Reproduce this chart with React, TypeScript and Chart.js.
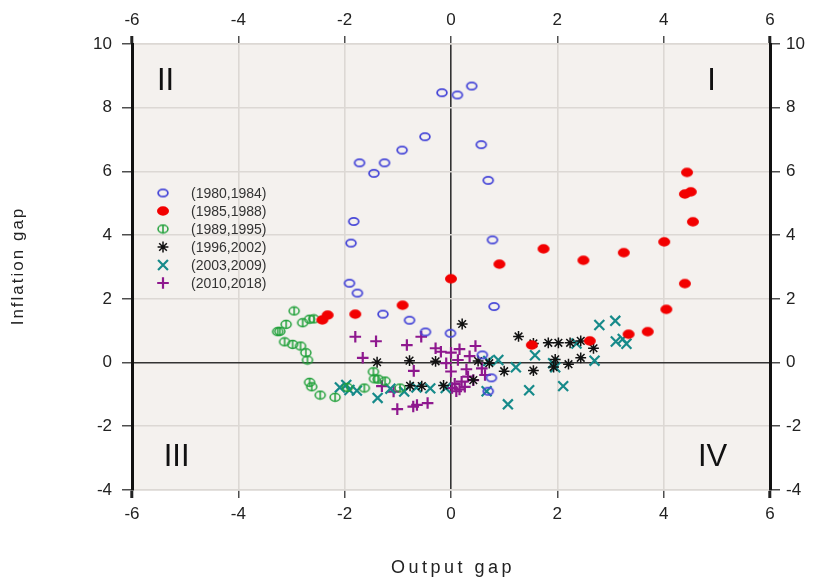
import React, { useEffect, useRef } from 'react';
import { Chart, registerables } from 'chart.js';

Chart.register(...registerables);

// ---------- data ----------
const seriesLabels = ['(1980,1984)', '(1985,1988)', '(1989,1995)', '(1996,2002)', '(2003,2009)', '(2010,2018)'];

const s1980_1984: [number, number][] = [
  [-0.17, 8.47], [0.12, 8.4], [0.39, 8.68], [0.57, 6.84], [0.7, 5.72], [0.78, 3.85], [0.81, 1.76],
  [0.59, 0.24], [0.76, -0.48], [0.7, -0.9], [-0.01, 0.92], [-0.48, 0.96], [-0.78, 1.33], [-1.28, 1.52],
  [-1.76, 2.18], [-1.91, 2.49], [-1.88, 3.75], [-1.83, 4.43], [-1.72, 6.27], [-1.45, 5.94], [-1.25, 6.27],
  [-0.92, 6.67], [-0.49, 7.09],
];
const s1985_1988: [number, number][] = [
  [-2.42, 1.34], [-2.32, 1.49], [-1.8, 1.52], [-0.91, 1.8], [0.0, 2.63], [0.91, 3.09], [1.74, 3.57],
  [2.49, 3.21], [3.25, 3.45], [4.01, 3.79], [4.55, 4.42], [4.44, 5.97], [4.4, 5.29], [4.51, 5.36],
  [4.4, 2.48], [4.05, 1.67], [3.7, 0.97], [3.34, 0.89], [2.61, 0.68], [1.52, 0.55],
];
const s1989_1995: [number, number][] = [
  [-2.95, 1.62], [-2.66, 1.36], [-2.58, 1.37], [-2.79, 1.25], [-3.1, 1.2], [-3.26, 0.97], [-3.22, 0.98],
  [-3.13, 0.65], [-2.98, 0.57], [-2.83, 0.52], [-2.73, 0.31], [-2.7, 0.08], [-2.66, -0.62], [-2.62, -0.76],
  [-2.46, -1.02], [-2.18, -1.09], [-1.95, -0.78], [-1.63, -0.8], [-1.46, -0.29], [-1.44, -0.51],
  [-1.37, -0.52], [-1.24, -0.58], [-0.96, -0.8],
];
const s1996_2002: [number, number][] = [
  [0.21, 1.21], [-1.39, 0.01], [-0.78, 0.06], [-0.29, 0.04], [0.51, 0.05], [0.72, -0.02], [1.27, 0.82],
  [1.55, 0.6], [1.83, 0.62], [2.02, 0.62], [2.24, 0.62], [2.44, 0.68], [2.68, 0.45], [2.44, 0.15],
  [2.21, -0.05], [1.96, 0.1], [1.93, -0.14], [1.55, -0.25], [1.0, -0.27], [0.42, -0.55], [-0.14, -0.72],
  [-0.55, -0.74], [-0.77, -0.73],
];
const s2003_2009: [number, number][] = [
  [-2.09, -0.78], [-1.97, -0.7], [-1.91, -0.86], [-1.77, -0.88], [-1.38, -1.11], [-1.14, -0.82],
  [-0.88, -0.91], [-0.65, -0.78], [-0.39, -0.81], [-0.1, -0.8], [0.67, -0.9], [0.7, 0.05], [0.89, 0.08],
  [1.22, -0.15], [1.58, 0.23], [1.92, -0.02], [1.96, -0.15], [1.47, -0.87], [2.11, -0.74], [1.07, -1.31],
  [2.36, 0.6], [2.7, 0.06], [2.79, 1.18], [3.09, 1.31], [3.1, 0.66], [3.23, 0.74], [3.3, 0.59],
];
const s2010_2018: [number, number][] = [
  [-1.8, 0.81], [-1.41, 0.67], [-1.66, 0.15], [-0.83, 0.55], [-0.56, 0.81], [-0.29, 0.45], [-0.19, 0.34],
  [0.0, 0.31], [0.16, 0.42], [0.46, 0.52], [0.35, 0.2], [0.13, 0.08], [-0.09, -0.02], [-0.7, -0.26],
  [0.0, -0.28], [0.29, -0.21], [0.32, -0.44], [0.2, -0.6], [0.42, -0.55], [0.07, -0.67], [0.16, -0.84],
  [0.26, -0.76], [0.58, -0.18], [0.64, -0.39], [-1.3, -0.74], [-1.08, -0.91], [-1.01, -1.46],
  [-0.71, -1.38], [-0.64, -1.33], [-0.44, -1.27], [0.02, -0.8], [0.1, -0.9],
];

const xRange = [-6, 6];
const yRange = [-4, 10];
const tickStep = 2;

const quadrantLabels: { text: string; x: number; y: number }[] = [
  { text: 'I', x: 4.9, y: 8.82 },
  { text: 'II', x: -5.37, y: 8.82 },
  { text: 'III', x: -5.16, y: -2.99 },
  { text: 'IV', x: 4.92, y: -2.99 },
];

const xTitle = 'Output gap';
const yTitle = 'Inflation gap';

// ---------- styles ----------
const FONT = '"Liberation Sans", Arial, sans-serif';
const BLUE = '#4848d8';
const RED = '#f20000';
const GREEN = '#20a03a';
const BLACK = '#111111';
const TEAL = '#168a8a';
const PURPLE = '#8e188e';

function ellipseImage(w: number, h: number, rx: number, ry: number, color: string, filled: boolean, lw: number, bar: boolean) {
  const c = document.createElement('canvas');
  c.width = w;
  c.height = h;
  const g = c.getContext('2d')!;
  g.beginPath();
  g.ellipse(w / 2, h / 2, rx, ry, 0, 0, Math.PI * 2);
  if (filled) {
    g.fillStyle = color;
    g.fill();
  } else {
    g.strokeStyle = color;
    g.lineWidth = lw;
    g.stroke();
  }
  if (bar) {
    g.beginPath();
    g.moveTo(w / 2, h / 2 - ry);
    g.lineTo(w / 2, h / 2 + ry);
    g.strokeStyle = color;
    g.lineWidth = lw;
    g.stroke();
  }
  return c;
}

function drawMarker(ctx: CanvasRenderingContext2D, style: any, color: string, r: number, lw: number, x: number, y: number) {
  ctx.save();
  if (style instanceof HTMLCanvasElement) {
    ctx.drawImage(style, x - style.width / 2, y - style.height / 2);
    ctx.restore();
    return;
  }
  ctx.strokeStyle = color;
  ctx.lineWidth = lw;
  ctx.beginPath();
  const d = r * Math.SQRT1_2;
  if (style === 'cross' || style === 'star') {
    ctx.moveTo(x - r, y); ctx.lineTo(x + r, y);
    ctx.moveTo(x, y - r); ctx.lineTo(x, y + r);
  }
  if (style === 'crossRot' || style === 'star') {
    ctx.moveTo(x - d, y - d); ctx.lineTo(x + d, y + d);
    ctx.moveTo(x + d, y - d); ctx.lineTo(x - d, y + d);
  }
  ctx.stroke();
  ctx.restore();
}

export default function App() {
  const ref = useRef<HTMLCanvasElement | null>(null);

  useEffect(() => {
    document.body.style.margin = '0';
    const canvas = ref.current!;

    const blueImg = ellipseImage(14, 11, 4.9, 3.7, BLUE, false, 1.8, false);
    const redImg = ellipseImage(14, 12, 6, 4.7, RED, true, 1, false);
    const greenImg = ellipseImage(14, 11, 5, 3.9, GREEN, false, 1.5, true);

    const seriesData = [s1980_1984, s1985_1988, s1989_1995, s1996_2002, s2003_2009, s2010_2018];
    const styles: any[] = [blueImg, redImg, greenImg, 'star', 'crossRot', 'cross'];
    const colors = [BLUE, RED, GREEN, BLACK, TEAL, PURPLE];
    const radii = [6, 6, 6, 5.4, 7, 5.8];
    const widths = [1.8, 1, 1.5, 1.5, 2.2, 2.2];

    const datasets = seriesData.map((d, i) => ({
      label: seriesLabels[i],
      data: d.map(([x, y]) => ({ x, y })),
      pointStyle: styles[i],
      pointRadius: radii[i],
      pointBorderColor: colors[i],
      pointBackgroundColor: colors[i],
      pointBorderWidth: widths[i],
      showLine: false,
    }));

    const gridColor = '#dcd8d4';
    const tickFont = { family: FONT, size: 17 };

    const bgPlugin = {
      id: 'plotBg',
      beforeDraw(chart: any) {
        const { ctx, chartArea: a } = chart;
        ctx.save();
        ctx.fillStyle = '#f4f1ee';
        ctx.fillRect(a.left, a.top, a.right - a.left, a.bottom - a.top);
        ctx.restore();
      },
    };

    const overlayPlugin = {
      id: 'overlay',
      afterDraw(chart: any) {
        const { ctx, chartArea: a, scales } = chart;
        const sx = scales.x;
        const sy = scales.y;
        ctx.save();
        // quadrant labels
        ctx.fillStyle = '#111';
        ctx.font = `31px ${FONT}`;
        ctx.textAlign = 'center';
        ctx.textBaseline = 'middle';
        quadrantLabels.forEach((q) => {
          ctx.fillText(q.text, sx.getPixelForValue(q.x), sy.getPixelForValue(q.y));
        });
        // legend
        const lx = a.left + 31;
        const tx = a.left + 59;
        const ly0 = a.top + 149;
        const step = 18;
        ctx.font = `14px ${FONT}`;
        ctx.textAlign = 'left';
        seriesLabels.forEach((lab, i) => {
          const yy = ly0 + i * step;
          drawMarker(ctx, styles[i], colors[i], radii[i], widths[i], lx, yy);
          ctx.fillStyle = '#333';
          ctx.fillText(lab, tx, yy + 1);
        });
        // axis titles
        ctx.fillStyle = '#222';
        ctx.font = `18px ${FONT}`;
        (ctx as any).letterSpacing = '3.5px';
        ctx.textAlign = 'center';
        ctx.fillText(xTitle, (a.left + a.right) / 2 + 2, 568);
        ctx.save();
        ctx.translate(18, (a.top + a.bottom) / 2);
        ctx.rotate(-Math.PI / 2);
        ctx.font = `17px ${FONT}`;
        (ctx as any).letterSpacing = '2px';
        ctx.fillText(yTitle, 1, 0);
        ctx.restore();
        ctx.restore();
      },
    };

    const xGrid = {
      color: (c: any) => {
        const v = c.tick ? c.tick.value : null;
        if (v === 0) return '#333';
        if (v === xRange[0] || v === xRange[1]) return 'rgba(0,0,0,0)';
        return gridColor;
      },
      lineWidth: 1.6,
      tickColor: '#222',
      tickWidth: (c: any) => {
        const v = c.tick ? c.tick.value : null;
        return v === xRange[0] || v === xRange[1] ? 3 : 1.2;
      },
      tickLength: 8,
      drawTicks: true,
    };
    const yGrid = {
      color: (c: any) => (c.tick && c.tick.value === 0 ? '#333' : gridColor),
      lineWidth: 1.6,
      tickColor: '#222',
      tickWidth: 1.2,
      tickLength: 10,
      drawTicks: true,
    };

    const chart = new Chart(canvas, {
      type: 'scatter',
      data: { datasets },
      plugins: [bgPlugin, overlayPlugin],
      options: {
        animation: false,
        responsive: false,
        devicePixelRatio: 1,
        layout: { padding: 0 },
        plugins: { legend: { display: false }, tooltip: { enabled: false } },
        scales: {
          x: {
            type: 'linear',
            position: 'bottom',
            min: xRange[0],
            max: xRange[1],
            ticks: { stepSize: tickStep, font: tickFont, color: '#222', padding: 6, maxRotation: 0 },
            grid: xGrid as any,
            border: { color: gridColor, width: 1.6 },
            afterFit: (s: any) => { s.height = 88; },
          },
          x2: {
            type: 'linear',
            position: 'top',
            min: xRange[0],
            max: xRange[1],
            ticks: { stepSize: tickStep, font: tickFont, color: '#222', padding: 5, maxRotation: 0 },
            grid: { ...(xGrid as any), drawOnChartArea: false },
            border: { color: gridColor, width: 1.6 },
            afterFit: (s: any) => { s.height = 44; },
          },
          y: {
            type: 'linear',
            position: 'left',
            min: yRange[0],
            max: yRange[1],
            ticks: { stepSize: tickStep, font: tickFont, color: '#222', padding: 10 },
            grid: yGrid as any,
            border: { color: '#111', width: 3 },
            afterFit: (s: any) => { s.width = 132; },
          },
          y2: {
            type: 'linear',
            position: 'right',
            min: yRange[0],
            max: yRange[1],
            ticks: { stepSize: tickStep, font: tickFont, color: '#222', padding: 6 },
            grid: { ...(yGrid as any), drawOnChartArea: false },
            border: { color: '#111', width: 3 },
            afterFit: (s: any) => { s.width = 48; },
          },
        },
      } as any,
    });

    return () => chart.destroy();
  }, []);

  return (
    <div style={{ width: 818, height: 578 }}>
      <canvas ref={ref} width={818} height={578} style={{ display: 'block', width: 818, height: 578 }} />
    </div>
  );
}
